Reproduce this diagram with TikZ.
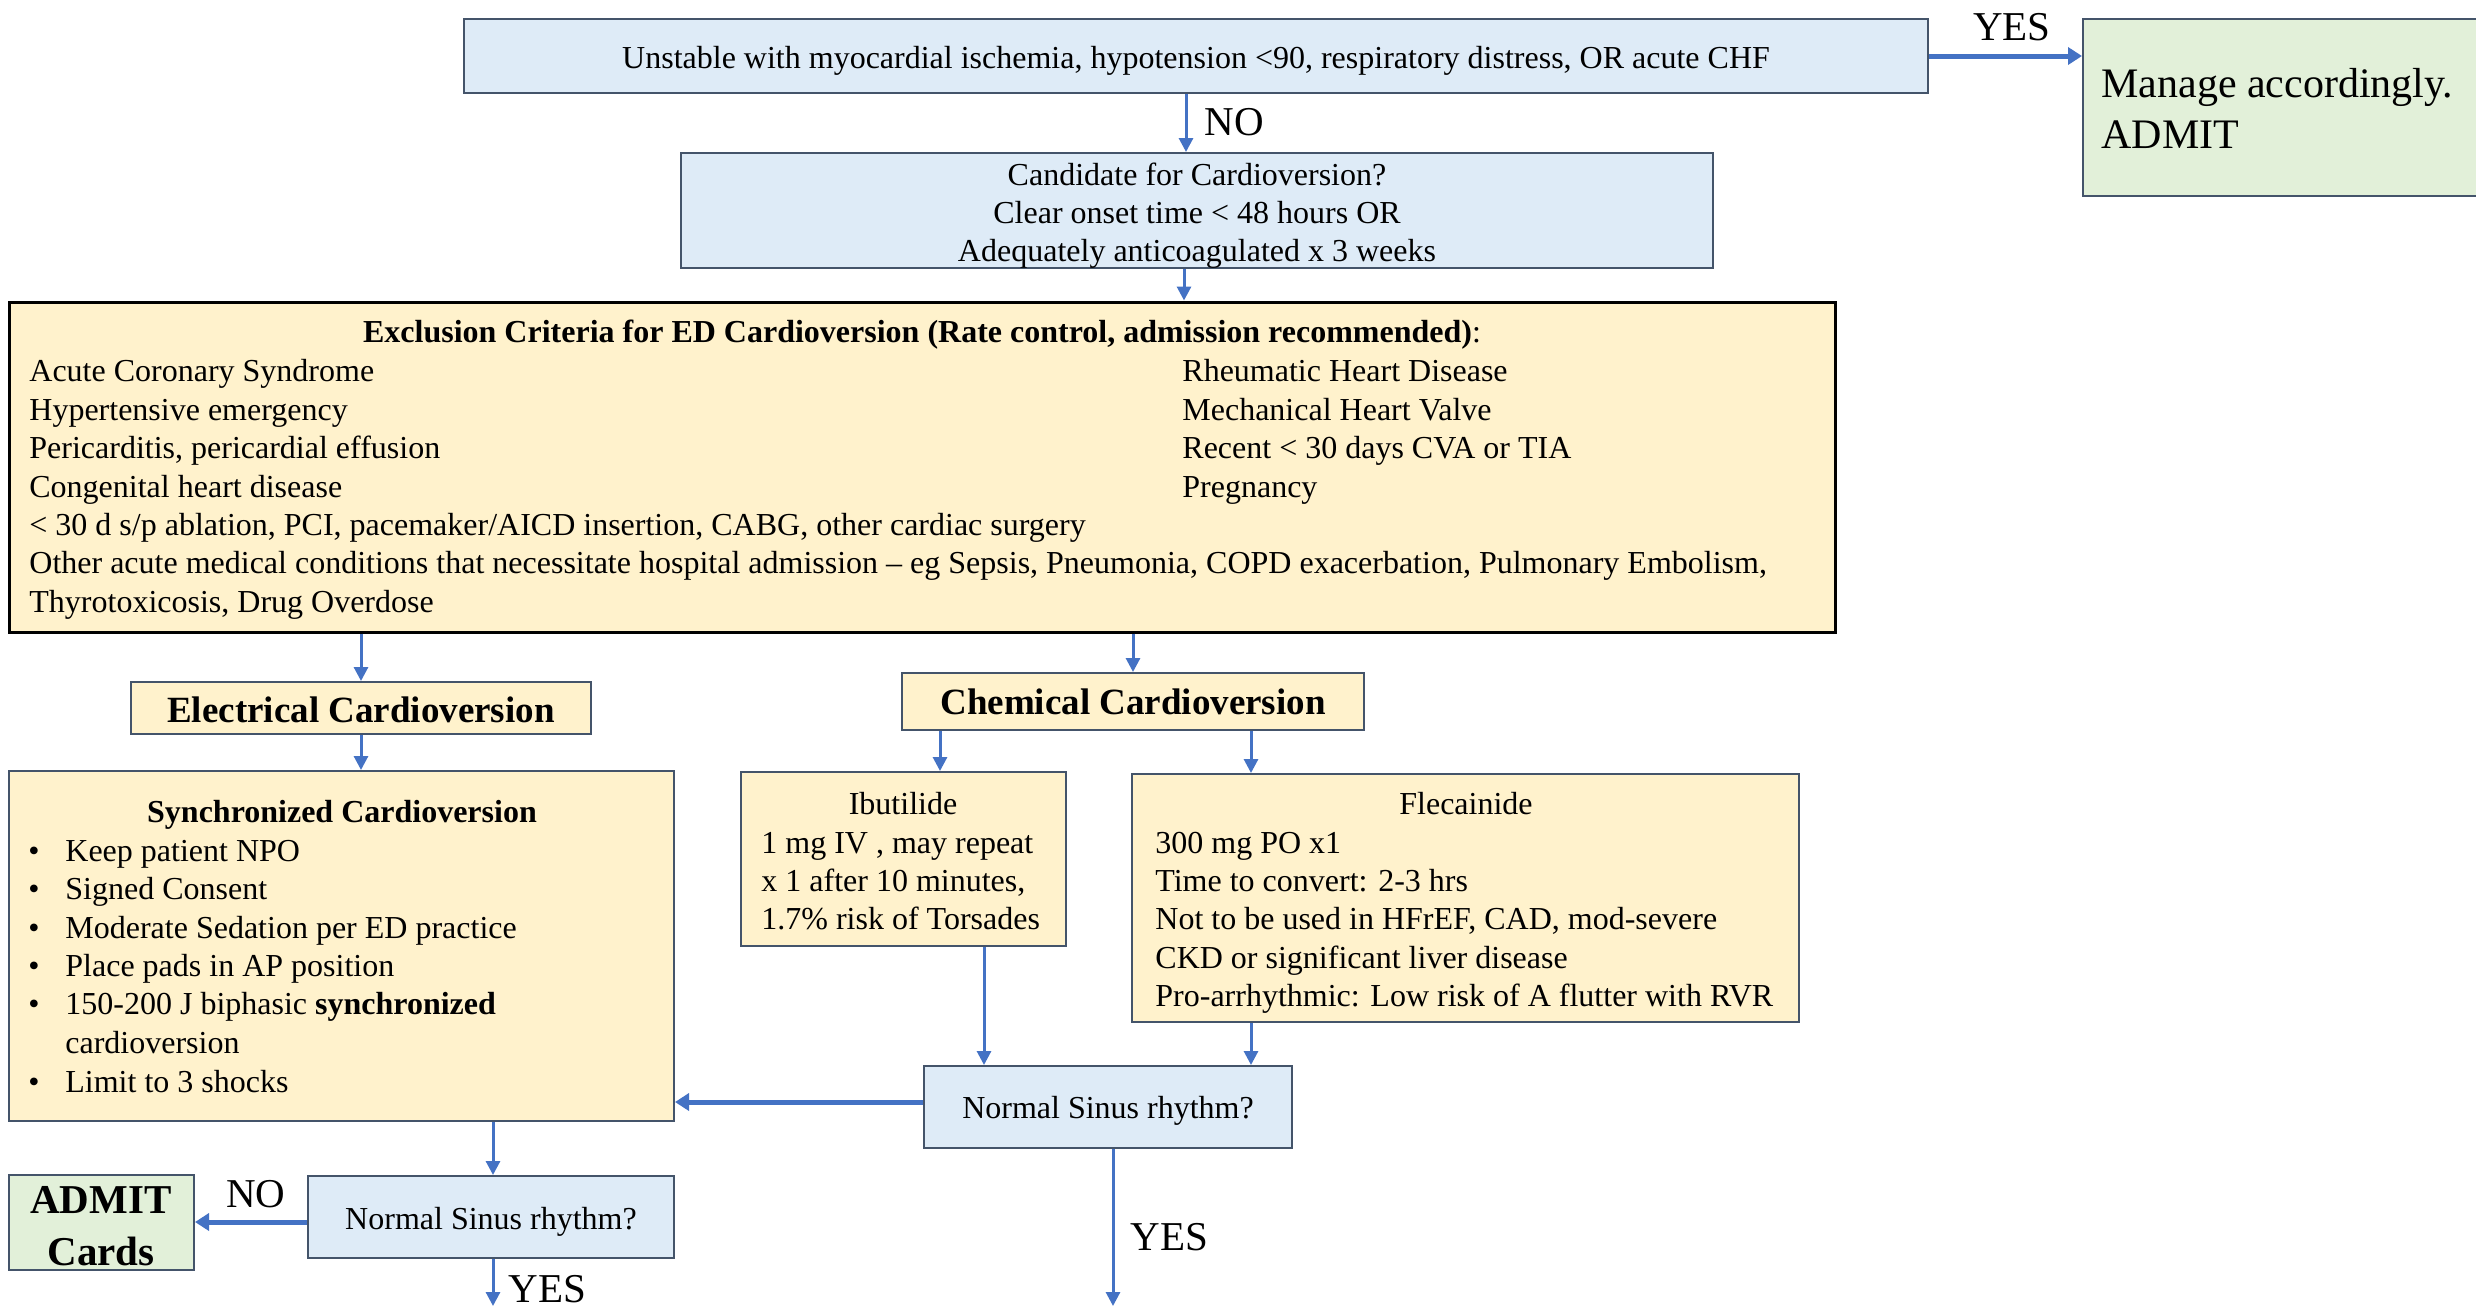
\documentclass[tikz,border=0pt]{standalone}
\usepackage{fontspec}
\setmainfont{Liberation Serif}
\usetikzlibrary{arrows.meta,fit,calc}
\definecolor{bluefill}{HTML}{DEEBF7}
\definecolor{yelfill}{HTML}{FFF2CC}
\definecolor{grnfill}{HTML}{E2F0D9}
\definecolor{edge}{HTML}{44546A}
\definecolor{flow}{HTML}{4472C4}

\begin{document}
\begin{tikzpicture}[x=0.5pt,y=-0.5pt,
  box/.style={draw=edge,line width=1pt,inner sep=0pt},
  bluebox/.style={box,fill=bluefill},
  yelbox/.style={box,fill=yelfill},
  grnbox/.style={box,fill=grnfill},
  txt/.style={inner sep=0pt,font=\fontsize{16}{19.25}\selectfont},
  head/.style={inner sep=0pt,font=\fontsize{18.5}{22}\selectfont\bfseries},
  big/.style={inner sep=0pt,font=\fontsize{20.5}{25}\selectfont},
  arr/.style={draw=flow,line width=1.5pt,-{Triangle[width=7pt,length=7pt]}},
  thickarr/.style={draw=flow,line width=2.5pt,-{Triangle[width=8.5pt,length=7pt]}},
]
\useasboundingbox (0,0) rectangle (2476,1307);

% ---------- boxes ----------
\node[bluebox, fit={(464,19)(1928,93)}] (top) {};
\node[grnbox,  fit={(2083,19)(2530,196)}] (manage) {};
\node[bluebox, fit={(681,153)(1713,268)}] (cand) {};
\node[yelbox, draw=black, line width=1.5pt, fit={(9,302)(1835,632)}] (excl) {};
\node[yelbox,  fit={(131,682)(591,734)}] (elec) {};
\node[yelbox,  fit={(902,673)(1364,730)}] (chem) {};
\node[yelbox,  fit={(9,771)(674,1121)}] (sync) {};
\node[yelbox,  fit={(741,772)(1066,946)}] (ibu) {};
\node[yelbox,  fit={(1132,774)(1799,1022)}] (flec) {};
\node[bluebox, fit={(924,1066)(1292,1148)}] (nsrA) {};
\node[bluebox, fit={(308,1176)(674,1258)}] (nsrB) {};
\node[grnbox,  fit={(9,1175)(194,1270)}] (admit) {};

% ---------- texts ----------
\node[txt, anchor=base] (topT) at (1196,68) {Unstable with myocardial ischemia, hypotension <90, respiratory distress, OR acute CHF};
\node[big, anchor=base west, font=\fontsize{21}{25}\selectfont] (manT1) at (2101,97) {Manage accordingly.};
\node[big, anchor=base west, font=\fontsize{21}{25}\selectfont] (manT2) at (2101,148) {ADMIT};

\node[txt, anchor=base] (candT1) at (1197,185) {Candidate for Cardioversion?};
\node[txt, anchor=base] (candT2) at (1197,223) {Clear onset time < 48 hours OR};
\node[txt, anchor=base] (candT3) at (1197,261) {Adequately anticoagulated x 3 weeks};

\node[txt, anchor=base] (exH) at (922,342) {\textbf{Exclusion Criteria for ED Cardioversion (Rate control, admission recommended)}:};
\node[txt, anchor=base west] (exL1) at (29,381) {Acute Coronary Syndrome};
\node[txt, anchor=base west] (exL2) at (29,420) {Hypertensive emergency};
\node[txt, anchor=base west] (exL3) at (29,458) {Pericarditis, pericardial effusion};
\node[txt, anchor=base west] (exL4) at (29,497) {Congenital heart disease};
\node[txt, anchor=base west] (exL5) at (29,535) {< 30 d s/p ablation, PCI, pacemaker/AICD insertion, CABG, other cardiac surgery};
\node[txt, anchor=base west] (exL6) at (29,573) {Other acute medical conditions that necessitate hospital admission – eg Sepsis, Pneumonia, COPD exacerbation, Pulmonary Embolism,};
\node[txt, anchor=base west] (exL7) at (29,612) {Thyrotoxicosis, Drug Overdose};
\node[txt, anchor=base west] (exR1) at (1182,381) {Rheumatic Heart Disease};
\node[txt, anchor=base west] (exR2) at (1182,420) {Mechanical Heart Valve};
\node[txt, anchor=base west] (exR3) at (1182,458) {Recent < 30 days CVA or TIA};
\node[txt, anchor=base west] (exR4) at (1182,497) {Pregnancy};

\node[head, anchor=base] (elecT) at (361,722) {Electrical Cardioversion};
\node[head, anchor=base] (chemT) at (1133,714) {Chemical Cardioversion};

\node[txt, anchor=base] (syH) at (342,822) {\textbf{Synchronized Cardioversion}};
\foreach \yy/\tt [count=\i] in {861/Keep patient NPO, 899/Signed Consent,
    938/Moderate Sedation per ED practice, 976/Place pads in AP position,
    1014/{150-200 J biphasic \textbf{synchronized}}, 1092/Limit to 3 shocks} {
  \node[txt, anchor=base] (syB\i) at (34,\yy) {\textbullet};
  \node[txt, anchor=base west] (syT\i) at (65,\yy) {\tt};
}
\node[txt, anchor=base west] (syT7) at (65,1053) {cardioversion};

\node[txt, anchor=base] (ibH) at (903,814) {Ibutilide};
\node[txt, anchor=base west] (ib1) at (761,853) {1 mg IV , may repeat};
\node[txt, anchor=base west] (ib2) at (761,891) {x 1 after 10 minutes,};
\node[txt, anchor=base west] (ib3) at (761,929) {1.7\% risk of Torsades};

\node[txt, anchor=base] (flH) at (1466,814) {Flecainide};
\node[txt, anchor=base west] (fl1) at (1155,853) {300 mg PO x1};
\node[txt, anchor=base west] (fl2) at (1155,891) {Time to convert: 2-3 hrs};
\node[txt, anchor=base west] (fl3) at (1155,929) {Not to be used in HFrEF, CAD, mod-severe};
\node[txt, anchor=base west] (fl4) at (1155,968) {CKD or significant liver disease};
\node[txt, anchor=base west] (fl5) at (1155,1006) {Pro-arrhythmic: Low risk of A flutter with RVR};

\node[txt, anchor=base] (nsrAT) at (1108,1118) {Normal Sinus rhythm?};
\node[txt, anchor=base] (nsrBT) at (491,1229) {Normal Sinus rhythm?};

\node[big, anchor=base, font=\fontsize{20.5}{25}\selectfont\bfseries] (admT1) at (101,1213) {ADMIT};
\node[big, anchor=base, font=\fontsize{20.5}{25}\selectfont\bfseries] (admT2) at (101,1265) {Cards};

% ---------- connector positions ----------
\coordinate (xNo)   at (1186,0);
\coordinate (xCand) at (1184,0);
\coordinate (xIbu)  at (940,0);
\coordinate (xFlec) at (1251,0);
\coordinate (xIbuD) at (984,0);
\coordinate (yBack) at (0,1102);
\coordinate (yNo)   at (0,1222);
\coordinate (xSync) at (493,0);
\coordinate (endA)  at (1113,1306);
\coordinate (endB)  at (493,1306);

% ---------- connectors ----------
\draw[arr] (top.south -| xNo) -- (cand.north -| xNo);
\node[big, anchor=base west] (noT) at (1204,135) {NO};
\draw[thickarr] (top.east) -- (manage.west |- top.east);
\node[big, anchor=base] (yesT) at (2012,40) {YES};
\draw[arr] (cand.south -| xCand) -- (excl.north -| xCand);

\draw[arr] (elec.north |- excl.south) -- (elec.north);
\draw[arr] (chem.north |- excl.south) -- (chem.north);
\draw[arr] (elec.south) -- (elec.south |- sync.north);
\draw[arr] (chem.south -| xIbu) -- (ibu.north -| xIbu);
\draw[arr] (chem.south -| xFlec) -- (flec.north -| xFlec);
\draw[arr] (ibu.south -| xIbuD) -- (nsrA.north -| xIbuD);
\draw[arr] (flec.south -| xFlec) -- (nsrA.north -| xFlec);
\draw[thickarr] (nsrA.west |- yBack) -- (sync.east |- yBack);
\draw[arr] (nsrA.south -| endA) -- (endA);
\node[big, anchor=base west] (yesA) at (1130,1250) {YES};
\draw[arr] (sync.south -| xSync) -- (nsrB.north -| xSync);
\draw[thickarr] (nsrB.west |- yNo) -- (admit.east |- yNo);
\node[big, anchor=base] (noB) at (256,1207) {NO};
\draw[arr] (nsrB.south -| endB) -- (endB);
\node[big, anchor=base west] (yesB) at (508,1302) {YES};
\end{tikzpicture}
\end{document}
